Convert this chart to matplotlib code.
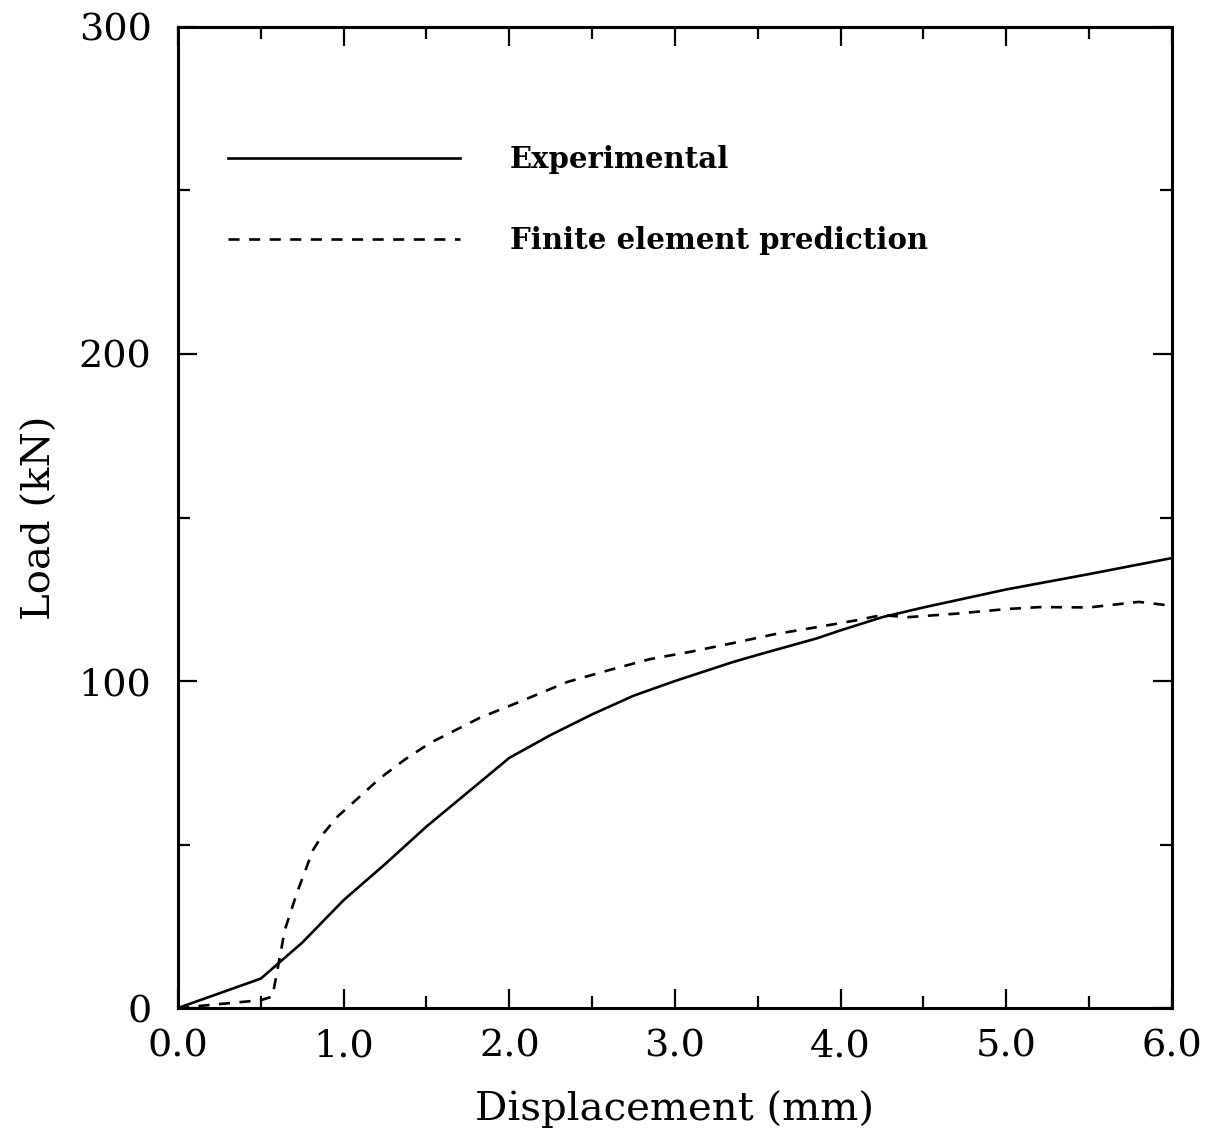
import numpy as np
import matplotlib.pyplot as plt
from matplotlib.ticker import MultipleLocator

# Experimental curve (displacement mm, load kN)
exp_x = [0.0, 0.5, 0.75, 1.0, 1.25, 1.5, 1.75, 2.0, 2.25, 2.5, 2.75, 3.0,
         3.35, 3.5, 3.86, 4.0, 4.25, 4.5, 5.0, 5.5, 6.0]
exp_y = [0.0, 9.0, 20.0, 33.0, 44.0, 55.5, 66.0, 76.5, 83.5, 89.8, 95.5, 100.0,
         105.8, 108.0, 113.1, 115.5, 119.5, 122.5, 128.0, 132.7, 137.6]

# Finite element prediction
fe_x = [0.0, 0.5, 0.57, 0.6, 0.645, 0.72, 0.815, 0.88, 0.96, 1.05, 1.22, 1.37,
        1.52, 1.82, 2.06, 2.35, 2.6, 2.85, 3.1, 3.35, 3.6, 3.86, 4.1, 4.25,
        4.4, 4.7, 5.0, 5.2, 5.5, 5.8, 6.0]
fe_y = [0.0, 2.4, 3.5, 11.6, 23.9, 35.5, 48.3, 53.5, 58.4, 62.5, 70.3, 76.0,
        81.0, 88.7, 93.6, 99.7, 103.3, 106.7, 109.0, 111.6, 114.3, 116.5, 118.6, 120.2,
        119.5, 120.6, 122.0, 122.6, 122.5, 124.2, 123.0]

plt.rcParams['font.family'] = 'DejaVu Serif'

fig = plt.figure(figsize=(12.15, 11.34), dpi=100)
ax = fig.add_axes([0.1465, 0.1111, 0.8181, 0.8651])

ax.plot(exp_x, exp_y, color='black', linewidth=1.9, label='Experimental')
ax.plot(fe_x, fe_y, color='black', linewidth=1.9, linestyle=(0, (4.2, 3.6)),
        label='Finite element prediction')

ax.set_xlim(0, 6)
ax.set_ylim(0, 300)
ax.xaxis.set_major_locator(MultipleLocator(1.0))
ax.xaxis.set_minor_locator(MultipleLocator(0.5))
ax.yaxis.set_major_locator(MultipleLocator(100))
ax.yaxis.set_minor_locator(MultipleLocator(50))
ax.xaxis.set_major_formatter(lambda v, p: f'{v:.1f}')
ax.yaxis.set_major_formatter(lambda v, p: f'{v:.0f}')

ax.tick_params(which='both', direction='in', top=True, right=True, width=1.6)
ax.tick_params(which='major', length=14, labelsize=27.5)
ax.tick_params(axis='x', which='major', pad=15)
ax.tick_params(axis='y', which='major', pad=19)
ax.tick_params(which='minor', length=8.5)
for s in ax.spines.values():
    s.set_linewidth(2.2)

ax.set_xlabel('Displacement (mm)', fontsize=29, labelpad=18)
ax.set_ylabel('Load (kN)', fontsize=29, labelpad=14)

leg = ax.legend(loc='upper left', bbox_to_anchor=(0.0239, 0.9065), frameon=False,
                handlelength=7.95, handletextpad=1.71, labelspacing=1.8,
                prop={'size': 21, 'weight': 'bold'})

fig.savefig('out.png', dpi=100)
